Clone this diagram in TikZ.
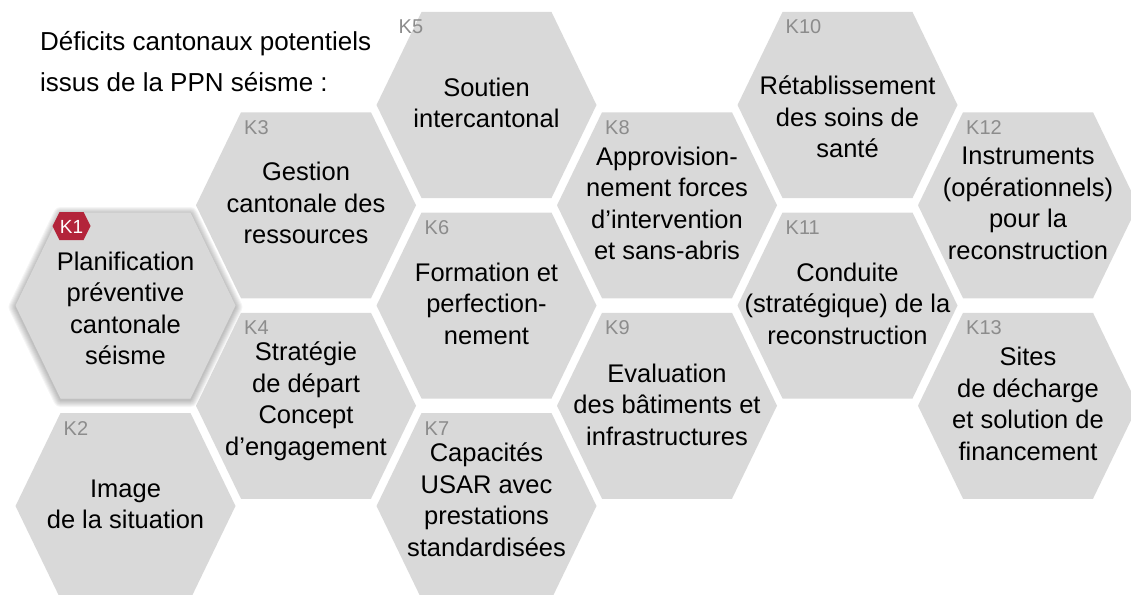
\documentclass[tikz,border=0pt]{standalone}
\usepackage{fontspec}
\setmainfont{Liberation Sans}
\definecolor{cellgray}{HTML}{D9D9D9}
\definecolor{keygray}{HTML}{8C8C8C}
\definecolor{badgered}{HTML}{B3243A}
% fixed struts, independent of the node font
\newcommand{\cellstrut}{\rule[-9.45pt]{0pt}{31.5pt}}
\newcommand{\titlestrut}{\rule{0pt}{27pt}}

\begin{document}
\begin{tikzpicture}[x=1pt,y=-1pt]
\tikzset{
  pics/hexcell/.style={code={\path[#1] (-110,0) -- (-65,-93) -- (65,-93) -- (110,0) -- (65,93) -- (-65,93) -- cycle;}},
  celltext/.style={align=center,inner sep=0pt,font=\fontsize{25.5}{31.5}\selectfont,
    execute at begin node=\cellstrut,execute at end node=\cellstrut,yshift=#1},
  celltext/.default=-2.7pt,
  cellkey/.style={anchor=base west,inner sep=0pt,text=keygray,font=\fontsize{20}{24}\selectfont},
  titletext/.style={anchor=north west,align=left,inner sep=0pt,font=\fontsize{26}{41}\selectfont}
}
\useasboundingbox (0,0) rectangle (1131,594);
\clip (0,0) rectangle (1131,594);

% honeycomb: k/column/row
\foreach \k/\c/\r in {1/0/2, 2/0/4, 3/1/1, 4/1/3, 5/2/0, 6/2/2, 7/2/4,
                      8/3/1, 9/3/3, 10/4/0, 11/4/2, 12/5/1, 13/5/3}
  \coordinate (c\k) at ({125.5+180.5*\c},{105+100.25*\r});

% soft shadow under the highlighted cell
\foreach \w in {2,4,...,14}
  \pic at ([yshift=-1.5pt]c1) {hexcell={draw=black,line width=\w pt,opacity=0.04,line join=round}};

\foreach \k in {1,...,13}
  \pic at (c\k) {hexcell={fill=cellgray}};

\foreach \k in {2,3,4,6,7,...,13}
  \node[cellkey] (k\k-key) at ([xshift=-62pt,yshift=71pt]c\k) {K\k};
\node[cellkey] (k5-key) at ([xshift=-88pt,yshift=71pt]c5) {K5};

% red tag on K1
\fill[badgered] (52.5,226) -- (59.5,212) -- (83.5,212) -- (90.5,226) -- (83.5,240) -- (59.5,240) -- cycle;
\node[inner sep=0pt,text=white,font=\fontsize{19}{22}\selectfont] (k1-key) at (71.5,226.5) {K1};

\node[titletext] (title) at (40,23) {\titlestrut Déficits cantonaux potentiels\\issus de la PPN séisme :};

\node[celltext=-7.4pt] (k1) at (c1) {Planification\\préventive\\cantonale\\séisme};
\node[celltext] (k2) at (c2) {Image\\de la situation};
\node[celltext] (k3) at (c3) {Gestion\\cantonale des\\ressources};
\node[celltext=2.3pt] (k4) at (c4) {Stratégie\\de départ\\Concept\\d’engagement};
\node[celltext] (k5) at (c5) {Soutien\\intercantonal};
\node[celltext] (k6) at (c6) {Formation et\\perfection-\\nement};
\node[celltext=1.8pt] (k7) at (c7) {Capacités\\USAR avec\\prestations\\standardisées};
\node[celltext] (k8) at (c8) {Approvision-\\nement forces\\d’intervention\\et sans-abris};
\node[celltext=-3.7pt] (k9) at (c9) {Evaluation\\des bâtiments et\\infrastructures};
\node[celltext=-16.7pt] (k10) at (c10) {Rétablissement\\des soins de\\santé};
\node[celltext] (k11) at (c11) {Conduite\\(stratégique) de la\\reconstruction};
\node[celltext] (k12) at (c12) {Instruments\\(opérationnels)\\pour la\\reconstruction};
\node[celltext] (k13) at (c13) {Sites\\de décharge\\et solution de\\financement};
\end{tikzpicture}
\end{document}
